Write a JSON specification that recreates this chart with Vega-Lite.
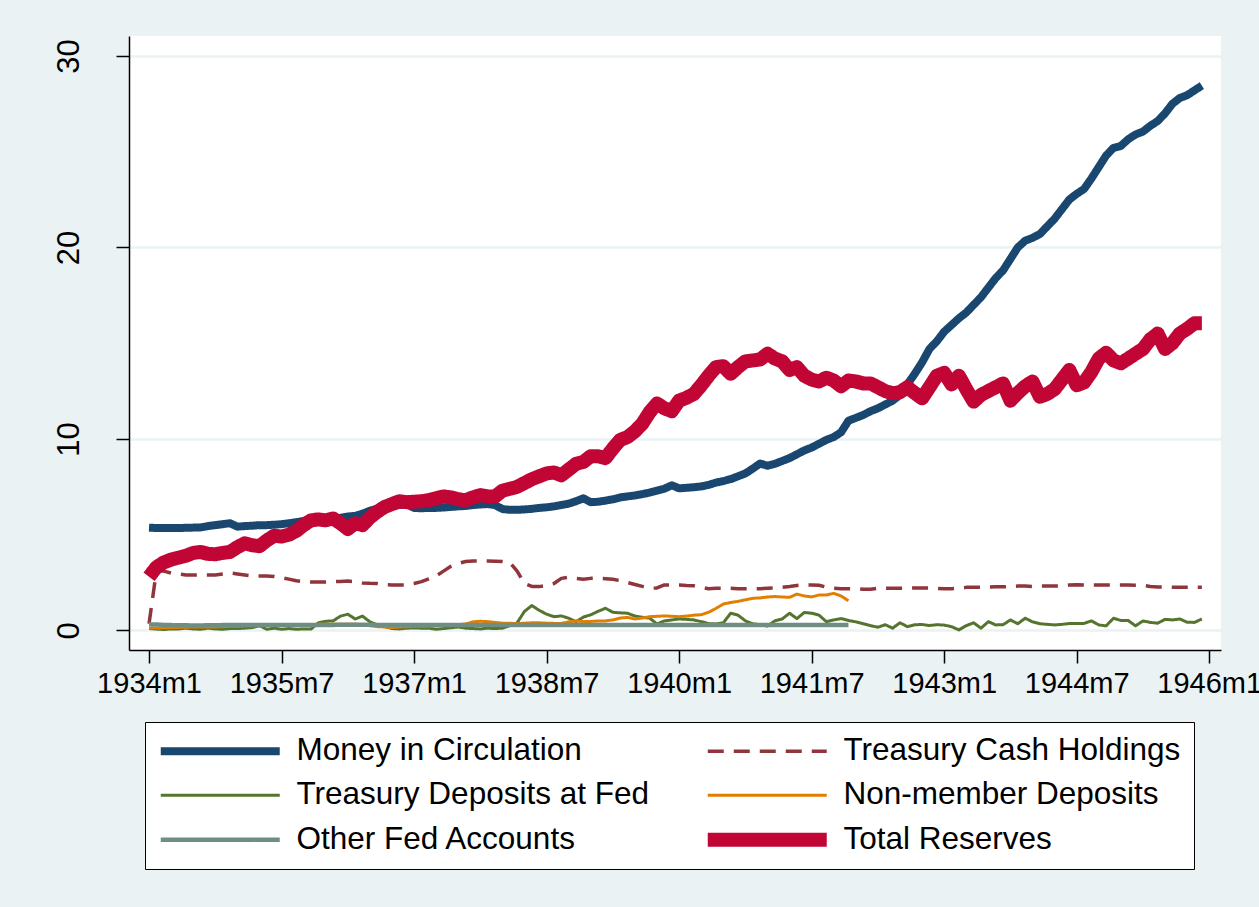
{
"$schema": "https://vega.github.io/schema/vega-lite/v6.json",
"width": 1092,
"height": 614,
"autosize": {"type": "none"},
"padding": {"left": 129, "top": 36, "right": 38, "bottom": 257},
"background": "#EAF2F3",
"view": {"fill": "white", "stroke": null},
"config": {"font": "Liberation Sans"},
"data": {"values": [
{"t":0,"money":5.37,"cash":0.35,"deposits":0.1,"nonmember":0.12,"other":0.32,"reserves":2.8},
{"t":1,"money":5.35,"cash":3.1,"deposits":0.07,"nonmember":0.13,"other":0.31,"reserves":3.3},
{"t":2,"money":5.35,"cash":3.1,"deposits":0.05,"nonmember":0.14,"other":0.29,"reserves":3.55},
{"t":3,"money":5.35,"cash":3.0,"deposits":0.08,"nonmember":0.15,"other":0.28,"reserves":3.7},
{"t":4,"money":5.35,"cash":2.95,"deposits":0.08,"nonmember":0.16,"other":0.27,"reserves":3.8},
{"t":5,"money":5.36,"cash":2.9,"deposits":0.12,"nonmember":0.17,"other":0.27,"reserves":3.9},
{"t":6,"money":5.37,"cash":2.9,"deposits":0.08,"nonmember":0.18,"other":0.26,"reserves":4.05},
{"t":7,"money":5.38,"cash":2.9,"deposits":0.06,"nonmember":0.18,"other":0.26,"reserves":4.1},
{"t":8,"money":5.45,"cash":2.9,"deposits":0.12,"nonmember":0.18,"other":0.27,"reserves":4.0},
{"t":9,"money":5.5,"cash":2.9,"deposits":0.08,"nonmember":0.18,"other":0.27,"reserves":3.98},
{"t":10,"money":5.55,"cash":2.95,"deposits":0.06,"nonmember":0.2,"other":0.28,"reserves":4.05},
{"t":11,"money":5.6,"cash":3.0,"deposits":0.1,"nonmember":0.22,"other":0.28,"reserves":4.1},
{"t":12,"money":5.42,"cash":2.95,"deposits":0.1,"nonmember":0.22,"other":0.28,"reserves":4.35},
{"t":13,"money":5.45,"cash":2.9,"deposits":0.12,"nonmember":0.24,"other":0.28,"reserves":4.55},
{"t":14,"money":5.47,"cash":2.85,"deposits":0.15,"nonmember":0.25,"other":0.28,"reserves":4.45},
{"t":15,"money":5.5,"cash":2.85,"deposits":0.25,"nonmember":0.25,"other":0.29,"reserves":4.4},
{"t":16,"money":5.5,"cash":2.85,"deposits":0.06,"nonmember":0.26,"other":0.29,"reserves":4.7},
{"t":17,"money":5.52,"cash":2.82,"deposits":0.12,"nonmember":0.28,"other":0.29,"reserves":4.95},
{"t":18,"money":5.55,"cash":2.75,"deposits":0.06,"nonmember":0.28,"other":0.29,"reserves":4.9},
{"t":19,"money":5.6,"cash":2.68,"deposits":0.1,"nonmember":0.3,"other":0.29,"reserves":5.0},
{"t":20,"money":5.65,"cash":2.6,"deposits":0.06,"nonmember":0.3,"other":0.29,"reserves":5.2},
{"t":21,"money":5.72,"cash":2.55,"deposits":0.08,"nonmember":0.3,"other":0.29,"reserves":5.5},
{"t":22,"money":5.78,"cash":2.53,"deposits":0.07,"nonmember":0.3,"other":0.29,"reserves":5.75},
{"t":23,"money":5.85,"cash":2.53,"deposits":0.4,"nonmember":0.32,"other":0.29,"reserves":5.8},
{"t":24,"money":5.78,"cash":2.53,"deposits":0.48,"nonmember":0.32,"other":0.29,"reserves":5.75},
{"t":25,"money":5.82,"cash":2.55,"deposits":0.5,"nonmember":0.33,"other":0.29,"reserves":5.85},
{"t":26,"money":5.88,"cash":2.56,"deposits":0.75,"nonmember":0.33,"other":0.3,"reserves":5.6},
{"t":27,"money":5.95,"cash":2.58,"deposits":0.85,"nonmember":0.33,"other":0.3,"reserves":5.3},
{"t":28,"money":5.98,"cash":2.55,"deposits":0.6,"nonmember":0.33,"other":0.3,"reserves":5.6},
{"t":29,"money":6.1,"cash":2.48,"deposits":0.75,"nonmember":0.3,"other":0.3,"reserves":5.5},
{"t":30,"money":6.25,"cash":2.46,"deposits":0.45,"nonmember":0.25,"other":0.3,"reserves":5.9},
{"t":31,"money":6.35,"cash":2.45,"deposits":0.3,"nonmember":0.2,"other":0.29,"reserves":6.2},
{"t":32,"money":6.42,"cash":2.4,"deposits":0.2,"nonmember":0.18,"other":0.29,"reserves":6.45},
{"t":33,"money":6.5,"cash":2.38,"deposits":0.1,"nonmember":0.15,"other":0.29,"reserves":6.6},
{"t":34,"money":6.55,"cash":2.38,"deposits":0.08,"nonmember":0.18,"other":0.29,"reserves":6.75},
{"t":35,"money":6.58,"cash":2.38,"deposits":0.12,"nonmember":0.2,"other":0.29,"reserves":6.7},
{"t":36,"money":6.4,"cash":2.45,"deposits":0.13,"nonmember":0.22,"other":0.29,"reserves":6.72},
{"t":37,"money":6.38,"cash":2.55,"deposits":0.12,"nonmember":0.22,"other":0.29,"reserves":6.75},
{"t":38,"money":6.4,"cash":2.7,"deposits":0.12,"nonmember":0.23,"other":0.29,"reserves":6.8},
{"t":39,"money":6.4,"cash":2.85,"deposits":0.06,"nonmember":0.25,"other":0.29,"reserves":6.9},
{"t":40,"money":6.42,"cash":3.1,"deposits":0.1,"nonmember":0.25,"other":0.29,"reserves":7.0},
{"t":41,"money":6.45,"cash":3.35,"deposits":0.14,"nonmember":0.27,"other":0.29,"reserves":6.95},
{"t":42,"money":6.48,"cash":3.5,"deposits":0.18,"nonmember":0.3,"other":0.29,"reserves":6.85},
{"t":43,"money":6.5,"cash":3.6,"deposits":0.12,"nonmember":0.34,"other":0.29,"reserves":6.8},
{"t":44,"money":6.55,"cash":3.63,"deposits":0.1,"nonmember":0.45,"other":0.29,"reserves":6.95},
{"t":45,"money":6.58,"cash":3.63,"deposits":0.08,"nonmember":0.48,"other":0.29,"reserves":7.07},
{"t":46,"money":6.6,"cash":3.63,"deposits":0.12,"nonmember":0.46,"other":0.29,"reserves":7.0},
{"t":47,"money":6.55,"cash":3.62,"deposits":0.1,"nonmember":0.42,"other":0.29,"reserves":6.99},
{"t":48,"money":6.34,"cash":3.6,"deposits":0.12,"nonmember":0.38,"other":0.29,"reserves":7.3},
{"t":49,"money":6.3,"cash":3.55,"deposits":0.25,"nonmember":0.38,"other":0.29,"reserves":7.4},
{"t":50,"money":6.3,"cash":3.1,"deposits":0.4,"nonmember":0.35,"other":0.29,"reserves":7.5},
{"t":51,"money":6.32,"cash":2.45,"deposits":1.0,"nonmember":0.38,"other":0.29,"reserves":7.7},
{"t":52,"money":6.35,"cash":2.3,"deposits":1.3,"nonmember":0.4,"other":0.29,"reserves":7.9},
{"t":53,"money":6.4,"cash":2.29,"deposits":1.05,"nonmember":0.4,"other":0.29,"reserves":8.05},
{"t":54,"money":6.43,"cash":2.35,"deposits":0.85,"nonmember":0.38,"other":0.29,"reserves":8.2},
{"t":55,"money":6.48,"cash":2.45,"deposits":0.72,"nonmember":0.37,"other":0.29,"reserves":8.25},
{"t":56,"money":6.55,"cash":2.72,"deposits":0.76,"nonmember":0.37,"other":0.29,"reserves":8.1},
{"t":57,"money":6.62,"cash":2.78,"deposits":0.64,"nonmember":0.45,"other":0.29,"reserves":8.4},
{"t":58,"money":6.75,"cash":2.72,"deposits":0.46,"nonmember":0.5,"other":0.29,"reserves":8.7},
{"t":59,"money":6.9,"cash":2.68,"deposits":0.7,"nonmember":0.46,"other":0.29,"reserves":8.8},
{"t":60,"money":6.7,"cash":2.72,"deposits":0.82,"nonmember":0.47,"other":0.29,"reserves":9.1},
{"t":61,"money":6.72,"cash":2.72,"deposits":1.0,"nonmember":0.5,"other":0.29,"reserves":9.1},
{"t":62,"money":6.78,"cash":2.7,"deposits":1.16,"nonmember":0.5,"other":0.29,"reserves":9.0},
{"t":63,"money":6.85,"cash":2.67,"deposits":0.95,"nonmember":0.55,"other":0.29,"reserves":9.5},
{"t":64,"money":6.95,"cash":2.6,"deposits":0.92,"nonmember":0.65,"other":0.29,"reserves":9.95},
{"t":65,"money":7.0,"cash":2.5,"deposits":0.9,"nonmember":0.68,"other":0.29,"reserves":10.1},
{"t":66,"money":7.05,"cash":2.4,"deposits":0.75,"nonmember":0.6,"other":0.29,"reserves":10.4},
{"t":67,"money":7.12,"cash":2.3,"deposits":0.69,"nonmember":0.65,"other":0.29,"reserves":10.8},
{"t":68,"money":7.2,"cash":2.2,"deposits":0.64,"nonmember":0.72,"other":0.29,"reserves":11.4},
{"t":69,"money":7.3,"cash":2.22,"deposits":0.34,"nonmember":0.74,"other":0.29,"reserves":11.85},
{"t":70,"money":7.4,"cash":2.38,"deposits":0.5,"nonmember":0.76,"other":0.29,"reserves":11.6},
{"t":71,"money":7.58,"cash":2.38,"deposits":0.55,"nonmember":0.74,"other":0.29,"reserves":11.45},
{"t":72,"money":7.42,"cash":2.38,"deposits":0.6,"nonmember":0.72,"other":0.29,"reserves":12.0},
{"t":73,"money":7.45,"cash":2.35,"deposits":0.58,"nonmember":0.75,"other":0.29,"reserves":12.15},
{"t":74,"money":7.48,"cash":2.33,"deposits":0.55,"nonmember":0.8,"other":0.29,"reserves":12.35},
{"t":75,"money":7.52,"cash":2.25,"deposits":0.46,"nonmember":0.82,"other":0.29,"reserves":12.8},
{"t":76,"money":7.6,"cash":2.18,"deposits":0.36,"nonmember":0.95,"other":0.29,"reserves":13.3},
{"t":77,"money":7.72,"cash":2.2,"deposits":0.34,"nonmember":1.15,"other":0.29,"reserves":13.75},
{"t":78,"money":7.8,"cash":2.2,"deposits":0.4,"nonmember":1.38,"other":0.29,"reserves":13.8},
{"t":79,"money":7.9,"cash":2.2,"deposits":0.9,"nonmember":1.46,"other":0.29,"reserves":13.4},
{"t":80,"money":8.05,"cash":2.18,"deposits":0.8,"nonmember":1.52,"other":0.29,"reserves":13.75},
{"t":81,"money":8.2,"cash":2.18,"deposits":0.5,"nonmember":1.6,"other":0.29,"reserves":14.05},
{"t":82,"money":8.45,"cash":2.18,"deposits":0.35,"nonmember":1.68,"other":0.29,"reserves":14.1},
{"t":83,"money":8.72,"cash":2.18,"deposits":0.3,"nonmember":1.7,"other":0.29,"reserves":14.15},
{"t":84,"money":8.6,"cash":2.2,"deposits":0.23,"nonmember":1.75,"other":0.29,"reserves":14.45},
{"t":85,"money":8.7,"cash":2.22,"deposits":0.5,"nonmember":1.77,"other":0.29,"reserves":14.2},
{"t":86,"money":8.85,"cash":2.26,"deposits":0.6,"nonmember":1.75,"other":0.29,"reserves":14.05},
{"t":87,"money":9.0,"cash":2.3,"deposits":0.9,"nonmember":1.73,"other":0.29,"reserves":13.6},
{"t":88,"money":9.2,"cash":2.35,"deposits":0.62,"nonmember":1.9,"other":0.29,"reserves":13.75},
{"t":89,"money":9.4,"cash":2.38,"deposits":0.94,"nonmember":1.8,"other":0.29,"reserves":13.3},
{"t":90,"money":9.55,"cash":2.38,"deposits":0.9,"nonmember":1.75,"other":0.29,"reserves":13.1},
{"t":91,"money":9.75,"cash":2.36,"deposits":0.8,"nonmember":1.85,"other":0.29,"reserves":13.0},
{"t":92,"money":9.95,"cash":2.26,"deposits":0.46,"nonmember":1.85,"other":0.29,"reserves":13.2},
{"t":93,"money":10.1,"cash":2.2,"deposits":0.55,"nonmember":1.94,"other":0.29,"reserves":13.05},
{"t":94,"money":10.35,"cash":2.18,"deposits":0.62,"nonmember":1.8,"other":0.29,"reserves":12.75},
{"t":95,"money":10.95,"cash":2.18,"deposits":0.52,"nonmember":1.55,"other":0.29,"reserves":13.05},
{"t":96,"money":11.1,"cash":2.18,"deposits":0.45,"reserves":13.0},
{"t":97,"money":11.25,"cash":2.15,"deposits":0.35,"reserves":12.9},
{"t":98,"money":11.45,"cash":2.15,"deposits":0.25,"reserves":12.9},
{"t":99,"money":11.6,"cash":2.2,"deposits":0.17,"reserves":12.7},
{"t":100,"money":11.8,"cash":2.2,"deposits":0.3,"reserves":12.5},
{"t":101,"money":12.0,"cash":2.2,"deposits":0.12,"reserves":12.38},
{"t":102,"money":12.3,"cash":2.2,"deposits":0.4,"reserves":12.45},
{"t":103,"money":12.85,"cash":2.2,"deposits":0.2,"reserves":12.7},
{"t":104,"money":13.4,"cash":2.22,"deposits":0.3,"reserves":12.4},
{"t":105,"money":14.0,"cash":2.22,"deposits":0.31,"reserves":12.12},
{"t":106,"money":14.7,"cash":2.22,"deposits":0.26,"reserves":12.7},
{"t":107,"money":15.1,"cash":2.2,"deposits":0.3,"reserves":13.3},
{"t":108,"money":15.6,"cash":2.18,"deposits":0.28,"reserves":13.45},
{"t":109,"money":15.95,"cash":2.18,"deposits":0.2,"reserves":12.85},
{"t":110,"money":16.3,"cash":2.2,"deposits":0.03,"reserves":13.3},
{"t":111,"money":16.6,"cash":2.25,"deposits":0.25,"reserves":12.6},
{"t":112,"money":17.0,"cash":2.25,"deposits":0.4,"reserves":11.95},
{"t":113,"money":17.4,"cash":2.25,"deposits":0.12,"reserves":12.3},
{"t":114,"money":17.9,"cash":2.27,"deposits":0.46,"reserves":12.5},
{"t":115,"money":18.4,"cash":2.28,"deposits":0.29,"reserves":12.7},
{"t":116,"money":18.8,"cash":2.28,"deposits":0.3,"reserves":12.9},
{"t":117,"money":19.4,"cash":2.3,"deposits":0.55,"reserves":12.0},
{"t":118,"money":20.0,"cash":2.32,"deposits":0.35,"reserves":12.4},
{"t":119,"money":20.35,"cash":2.32,"deposits":0.64,"reserves":12.75},
{"t":120,"money":20.5,"cash":2.3,"deposits":0.45,"reserves":13.0},
{"t":121,"money":20.7,"cash":2.32,"deposits":0.35,"reserves":12.2},
{"t":122,"money":21.1,"cash":2.32,"deposits":0.32,"reserves":12.35},
{"t":123,"money":21.5,"cash":2.32,"deposits":0.29,"reserves":12.6},
{"t":124,"money":22.0,"cash":2.33,"deposits":0.32,"reserves":13.1},
{"t":125,"money":22.5,"cash":2.37,"deposits":0.36,"reserves":13.6},
{"t":126,"money":22.8,"cash":2.39,"deposits":0.37,"reserves":12.8},
{"t":127,"money":23.05,"cash":2.38,"deposits":0.37,"reserves":12.95},
{"t":128,"money":23.6,"cash":2.37,"deposits":0.5,"reserves":13.5},
{"t":129,"money":24.2,"cash":2.37,"deposits":0.29,"reserves":14.2},
{"t":130,"money":24.8,"cash":2.37,"deposits":0.24,"reserves":14.5},
{"t":131,"money":25.2,"cash":2.37,"deposits":0.64,"reserves":14.1},
{"t":132,"money":25.3,"cash":2.37,"deposits":0.52,"reserves":13.95},
{"t":133,"money":25.65,"cash":2.37,"deposits":0.52,"reserves":14.2},
{"t":134,"money":25.9,"cash":2.36,"deposits":0.24,"reserves":14.45},
{"t":135,"money":26.05,"cash":2.35,"deposits":0.5,"reserves":14.7},
{"t":136,"money":26.35,"cash":2.3,"deposits":0.42,"reserves":15.2},
{"t":137,"money":26.6,"cash":2.27,"deposits":0.38,"reserves":15.5},
{"t":138,"money":27.0,"cash":2.26,"deposits":0.58,"reserves":14.7},
{"t":139,"money":27.5,"cash":2.25,"deposits":0.55,"reserves":15.0},
{"t":140,"money":27.8,"cash":2.25,"deposits":0.6,"reserves":15.5},
{"t":141,"money":27.95,"cash":2.25,"deposits":0.43,"reserves":15.75},
{"t":142,"money":28.2,"cash":2.25,"deposits":0.42,"reserves":16.04},
{"t":143,"money":28.45,"cash":2.25,"deposits":0.6,"reserves":16.04}
]},
"transform": [
{"fold": ["money","cash","deposits","nonmember","other","reserves"], "as": ["series","value"]},
{"filter": "isValid(datum.value)"}
],
"mark": {"type": "line", "strokeCap": "butt", "strokeJoin": "round"},
"encoding": {
"x": {"field": "t", "type": "quantitative",
  "scale": {"domain": [-2.72, 145.6], "nice": false, "zero": false},
  "axis": {"title": null, "values": [0,18,36,54,72,90,108,126,144],
    "labelExpr": "(1934 + floor(datum.value/12)) + 'm' + (datum.value % 12 + 1)",
    "grid": false, "tickSize": 13, "tickColor": "black", "tickWidth": 1.5,
    "domainColor": "black", "domainWidth": 1.5, "labelFontSize": 29, "labelColor": "black",
    "labelPadding": 6, "labelOverlap": false, "labelFlush": false, "labelBound": false}},
"y": {"field": "value", "type": "quantitative",
  "scale": {"domain": [-1.02, 31.04], "nice": false, "zero": false},
  "axis": {"title": null, "values": [0,10,20,30], "grid": true, "gridColor": "#EAF2F3", "gridWidth": 2.5,
    "tickSize": 13, "tickColor": "black", "tickWidth": 1.5, "domainColor": "black", "domainWidth": 1.5,
    "labelFontSize": 31, "labelColor": "black", "labelAngle": -90, "labelAlign": "center",
    "labelBaseline": "alphabetic", "labelPadding": 38}},
"color": {"field": "series", "type": "nominal",
  "scale": {"domain": ["money","deposits","other","cash","nonmember","reserves"],
    "range": ["#1a476f","#55752f","#6e8e84","#90353b","#e37e00","#c10534"]},
  "legend": {"orient": "none", "legendX": 16, "legendY": 686, "columns": 2, "title": null,
    "symbolType": "M-10,0H10", "symbolSize": 141.6, "symbolOffset": 46.5, "labelOffset": 60.5,
    "labelFontSize": 31.5, "labelColor": "black", "labelLimit": 0,
    "columnPadding": 51, "rowPadding": 11.5, "padding": 13,
    "strokeColor": "black", "fillColor": "white",
    "encode": {"symbols": {"update": {"strokeJoin": {"value": "round"}}}},
    "labelExpr": "datum.label == 'money' ? 'Money in Circulation' : datum.label == 'cash' ? 'Treasury Cash Holdings' : datum.label == 'deposits' ? 'Treasury Deposits at Fed' : datum.label == 'nonmember' ? 'Non-member Deposits' : datum.label == 'other' ? 'Other Fed Accounts' : 'Total Reserves'"}},
"strokeWidth": {"field": "series", "type": "nominal",
  "scale": {"type": "ordinal", "domain": ["money","deposits","other","cash","nonmember","reserves"], "range": [8,3,4.5,3.5,3,14]}},
"strokeDash": {"field": "series", "type": "nominal",
  "scale": {"domain": ["money","deposits","other","cash","nonmember","reserves"],
    "range": [[1,0],[1,0],[1,0],[16,10],[1,0],[1,0]]}}
}
}
